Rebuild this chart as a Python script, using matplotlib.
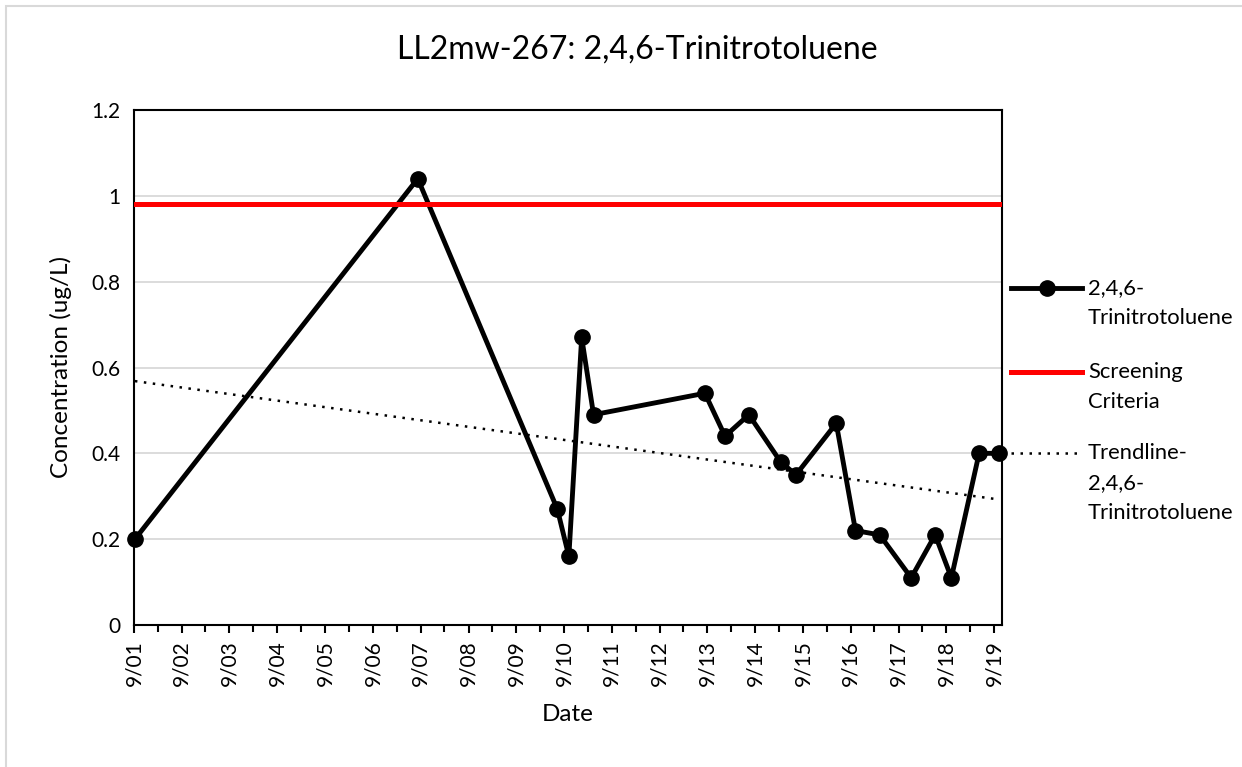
import matplotlib
matplotlib.use("Agg")
import matplotlib.pyplot as plt
import matplotlib.dates as mdates
from matplotlib.lines import Line2D
from matplotlib.patches import Rectangle
import numpy as np
import datetime as dt

plt.rcParams['font.family'] = ['Lato', 'DejaVu Sans']

# sample dates and results (ug/L)
dates = ["2001-09-08", "2007-08-10", "2010-07-12", "2010-10-08", "2011-01-14",
         "2011-04-15", "2013-08-13", "2014-01-14", "2014-07-15", "2015-03-15",
         "2015-07-10", "2016-05-13", "2016-10-07", "2017-04-10", "2017-12-07",
         "2018-06-08", "2018-10-10", "2019-05-10", "2019-10-10"]
conc = [0.20, 1.04, 0.27, 0.16, 0.67, 0.49, 0.54, 0.44, 0.49, 0.38,
        0.35, 0.47, 0.22, 0.21, 0.11, 0.21, 0.11, 0.40, 0.40]
screening = 0.98

x = [dt.datetime.strptime(d, "%Y-%m-%d") for d in dates]
xn = mdates.date2num(x)

# linear trendline like Excel (fit on date serials)
slope, icept = np.polyfit(xn, conc, 1)
tx = np.array([xn[0], xn[-1]])
ty = slope * tx + icept

fig = plt.figure(figsize=(12.42, 7.67), dpi=100)
ax = fig.add_axes([134/1242, 1-625/767, (1002-134)/1242, (625-110)/767])

ax.axhline(screening, color="#ff0000", lw=3.6, zorder=5)
ax.plot(mdates.num2date(tx), ty, color="black", lw=1.8, ls=(0, (1, 2.6)), zorder=2)
ax.plot(x, conc, "k-", lw=3.5, marker="o", ms=11, zorder=4, clip_on=False)

ax.set_ylim(0, 1.2)
ax.set_yticks(np.arange(0, 1.21, 0.2))
ax.set_yticklabels(["0", "0.2", "0.4", "0.6", "0.8", "1", "1.2"])
ax.set_xlim(dt.datetime(2001, 9, 1), dt.datetime(2019, 11, 1))
ax.xaxis.set_major_locator(mdates.YearLocator(month=9, day=1))
ax.xaxis.set_minor_locator(mdates.MonthLocator(bymonth=3, bymonthday=1))
ax.xaxis.set_major_formatter(mdates.DateFormatter("%-m/%y"))
for lab in ax.get_xticklabels():
    lab.set_rotation(90)

ax.grid(axis="y", color="#d9d9d9", lw=1.3)
ax.set_axisbelow(True)
for s in ax.spines.values():
    s.set_linewidth(1.5)
ax.tick_params(axis="x", which="major", direction="out", length=6, width=1.5, labelsize=15, pad=5)
ax.tick_params(axis="x", which="minor", direction="out", length=5, width=1.5)
ax.tick_params(axis="y", length=0, labelsize=15, pad=10)

ax.set_xlabel("Date", fontsize=17.5, labelpad=13)
ax.set_ylabel("Concentration (ug/L)", fontsize=17.5, labelpad=14)
fig.text(637/1242, 1-50/767, "LL2mw-267: 2,4,6-Trinitrotoluene", fontsize=23,
         ha="center", va="center")

# legend drawn by hand so the key sits next to the first line of text
def px(xp, yp):
    return xp/1242, 1-yp/767

items = [
    (dict(color="black", lw=3.5, marker="o", ms=11, markevery=[1]), ["2,4,6-", "Trinitrotoluene"], 288),
    (dict(color="#ff0000", lw=3.6), ["Screening", "Criteria"], 372),
    (dict(color="black", lw=1.8, ls=(0, (1, 2.6))), ["Trendline-", "2,4,6-", "Trinitrotoluene"], 453),
]
for style, lines, yp in items:
    x0, y0 = px(1011, yp)
    x1, _ = px(1082, yp)
    fig.add_artist(Line2D([x0, (x0+x1)/2, x1], [y0, y0, y0], **style))
    for i, t in enumerate(lines):
        tx_, ty_ = px(1088, yp + 30*i)
        fig.text(tx_, ty_, t, fontsize=15.8, ha="left", va="center")

fig.add_artist(Rectangle((6/1242, -0.05), 1.1, 1.05-6/767, transform=fig.transFigure,
                         fill=False, edgecolor="#d9d9d9", lw=1.5))

fig.savefig("out.png", dpi=100)
